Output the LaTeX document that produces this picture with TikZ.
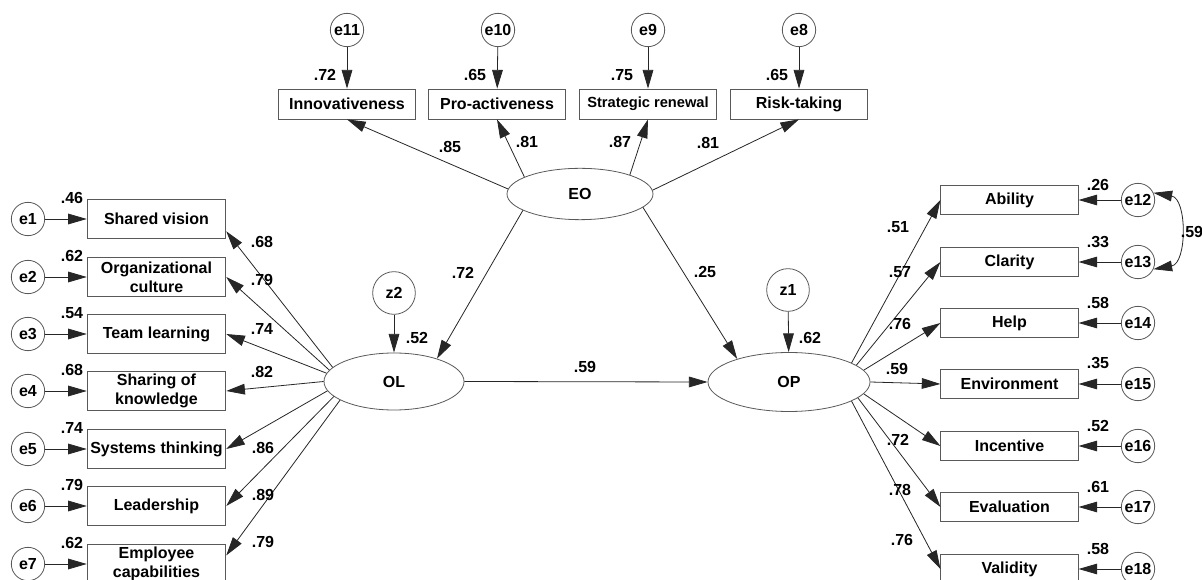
\documentclass[tikz,border=0pt]{standalone}
\usepackage{fontspec}
\setmainfont{Liberation Sans}
\usetikzlibrary{arrows.meta, shapes.geometric, positioning}

\begin{document}
\begin{tikzpicture}[x=0.75pt, y=-0.75pt, >={Triangle[length=14pt, width=8pt]},
    every node/.style={font=\bfseries\fontsize{12}{14}\selectfont, text=black},
    obs/.style={rectangle, draw=black!65, line width=0.6pt, inner sep=1pt, align=center},
    leftobs/.style={obs, minimum width=104pt, minimum height=29pt},
    topobs/.style={obs, minimum width=103pt, minimum height=22.5pt},
    rightobs/.style={obs, minimum width=103pt, minimum height=21.75pt},
    err/.style={circle, draw=black!65, line width=0.6pt, minimum size=25pt, inner sep=0pt},
    dist/.style={circle, draw=black!65, line width=0.6pt, minimum size=32pt, inner sep=0pt},
    lat/.style={ellipse, draw=black!65, line width=0.6pt, inner sep=0pt},
    num/.style={inner sep=0pt},
    conn/.style={->, black!85, line width=0.6pt}]
            \useasboundingbox (0,0) rectangle (1202,580);
            % EO indicators
            \node[err] (e11) at (347,30) {e11};
            \node[err] (e10) at (498,30) {e10};
            \node[err] (e9) at (648,30) {e9};
            \node[err] (e8) at (799,30) {e8};
            \node[topobs] (inn) at (347,104) {Innovativeness};
            \node[topobs] (pro) at (497,104) {Pro-activeness};
            \node[topobs, font=\bfseries\fontsize{11}{13}\selectfont] (sren) at (648,104) {Strategic renewal};
            \node[topobs] (risk) at (799,104) {Risk-taking};
            % latent variables
            \node[lat, minimum width=109.5pt, minimum height=38.5pt] (EO) at (580,194) {EO};
            \node[lat, minimum width=105pt, minimum height=42.75pt] (OL) at (394,381.5) {OL};
            \node[lat, minimum width=121.5pt, minimum height=44.25pt] (OP) at (789,382) {OP};
            \node[dist] (z2) at (394,293) {z2};
            \node[dist] (z1) at (788,290) {z1};
            % OL indicators
            \node[err] (e1) at (28,219) {e1};
            \node[err] (e2) at (28,277) {e2};
            \node[err] (e3) at (28,334) {e3};
            \node[err] (e4) at (28,391) {e4};
            \node[err] (e5) at (28,449) {e5};
            \node[err] (e6) at (28,506) {e6};
            \node[err] (e7) at (28,564) {e7};
            \node[leftobs] (sv) at (156.5,219) {Shared vision};
            \node[leftobs] (oc) at (156.5,277) {Organizational\\culture};
            \node[leftobs] (tl) at (156.5,334) {Team learning};
            \node[leftobs] (sk) at (156.5,391) {Sharing of\\knowledge};
            \node[leftobs] (st) at (156.5,449) {Systems thinking};
            \node[leftobs] (ld) at (156.5,506) {Leadership};
            \node[leftobs] (ec) at (156.5,564) {Employee\\capabilities};
            % OP indicators
            \node[rightobs] (abil) at (1009.5,200) {Ability};
            \node[rightobs] (clar) at (1009.5,262) {Clarity};
            \node[rightobs] (help) at (1009.5,323) {Help};
            \node[rightobs] (env) at (1009.5,384) {Environment};
            \node[rightobs] (inc) at (1009.5,446) {Incentive};
            \node[rightobs] (eval) at (1009.5,507) {Evaluation};
            \node[rightobs] (val) at (1009.5,569) {Validity};
            \node[err] (e12) at (1138,200) {e12};
            \node[err] (e13) at (1138,262) {e13};
            \node[err] (e14) at (1138,323) {e14};
            \node[err] (e15) at (1138,384) {e15};
            \node[err] (e16) at (1138,446) {e16};
            \node[err] (e17) at (1138,507) {e17};
            \node[err] (e18) at (1138,569) {e18};

            % paths
            \path[conn] (e11) edge (inn) (e10) edge (pro) (e9) edge (sren) (e8) edge (risk);
            \path[conn] (EO.176) edge (inn.south) (EO.163) edge (pro.south)
                        (EO.21) edge (sren.south) (EO.3) edge (risk.south);
            \path[conn] (EO.196) edge (OL.28) (EO.-12) edge (OP.156);
            \path[conn] (OL.east) edge (OP.west) (z2) edge (OL) (z1) edge (OP);
            \path[conn] (e1) edge (sv) (e2) edge (oc) (e3) edge (tl) (e4) edge (sk)
                        (e5) edge (st) (e6) edge (ld) (e7) edge (ec);
            \path[conn] (OL.167) edge (sv.-10) (OL.170) edge (oc.east) (OL.173) edge (tl.east)
                        (OL.180) edge (sk.east) (OL.188) edge (st.east) (OL.194) edge (ld.east)
                        (OL.199) edge (ec.7);
            \path[conn] (OP.17) edge (abil.west) (OP.14) edge (clar.west) (OP.9) edge (help.west)
                        (OP.east) edge (env.west) (OP.-9) edge (inc.west) (OP.-13) edge (eval.west)
                        (OP.-17) edge (val.west);
            \path[conn] (e12) edge (abil) (e13) edge (clar) (e14) edge (help) (e15) edge (env)
                        (e16) edge (inc) (e17) edge (eval) (e18) edge (val);
            \path[conn, <->] (e12.25) edge [bend left=80, looseness=1.15] (e13.-25);

            % estimates
            \node[num] (v11) at (325,75) {.72};
            \node[num] (v10) at (475,75) {.65};
            \node[num] (v9) at (622,75) {.75};
            \node[num] (v8) at (777,75) {.65};
            \node[num] (linn) at (450,147) {.85};
            \node[num] (lpro) at (527,142) {.81};
            \node[num] (lsren) at (620,142) {.87};
            \node[num] (lrisk) at (708,143) {.81};
            \node[num] (bol) at (463,273) {.72};
            \node[num] (bop) at (705,272) {.25};
            \node[num] (bolop) at (585,367) {.59};
            \node[num] (rol) at (417,338) {.52};
            \node[num] (rop) at (810,338) {.62};
            \node[num] (cov) at (1192,232) {.59};
            \node[num] (v1) at (72,198) {.46};
            \node[num] (v2) at (72,256) {.62};
            \node[num] (v3) at (72,313) {.54};
            \node[num] (v4) at (72,370) {.68};
            \node[num] (v5) at (72,428) {.74};
            \node[num] (v6) at (72,485) {.79};
            \node[num] (v7) at (72,543) {.62};
            \node[num] (lsv) at (262,242) {.68};
            \node[num] (loc) at (262,280) {.79};
            \node[num] (ltl) at (262,329) {.74};
            \node[num] (lsk) at (262,372) {.82};
            \node[num] (lst) at (263,448) {.86};
            \node[num] (lld) at (263,495) {.89};
            \node[num] (lec) at (263,542) {.79};
            \node[num] (labil) at (898,227) {.51};
            \node[num] (lclar) at (900,272) {.57};
            \node[num] (lhelp) at (900,324) {.76};
            \node[num] (lenv) at (897,369) {.59};
            \node[num] (linc) at (898,440) {.72};
            \node[num] (leval) at (900,490) {.78};
            \node[num] (lval) at (902,540) {.76};
            \node[num] (v12) at (1098,185) {.26};
            \node[num] (v13) at (1098,242) {.33};
            \node[num] (v14) at (1098,303) {.58};
            \node[num] (v15) at (1098,363) {.35};
            \node[num] (v16) at (1098,426) {.52};
            \node[num] (v17) at (1098,487) {.61};
            \node[num] (v18) at (1098,549) {.58};
        \end{tikzpicture}
\end{document}
